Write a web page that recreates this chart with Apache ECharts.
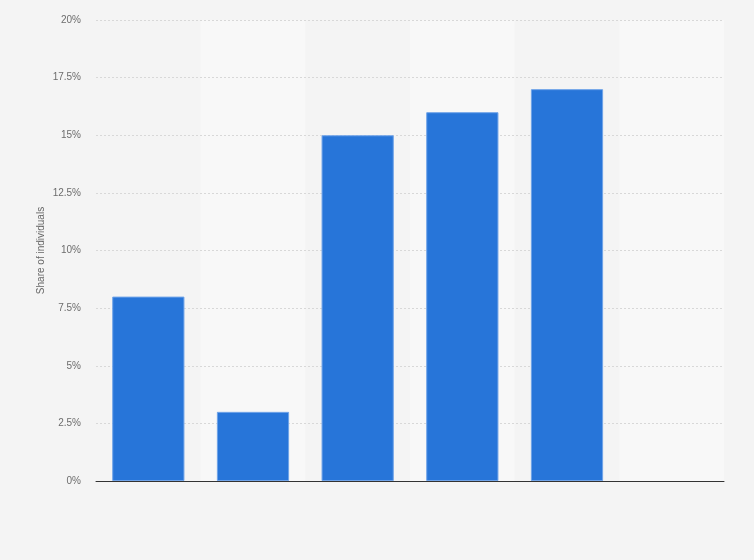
<!DOCTYPE html>
<html>
<head>
<meta charset="utf-8">
<script src="https://cdn.jsdelivr.net/npm/echarts@6/dist/echarts.min.js"></script>
<style>
  html, body { margin: 0; padding: 0; background: #f4f4f4; }
  #main { width: 754px; height: 560px; }
</style>
</head>
<body>
<div id="main"></div>
<script>
// categories have no visible labels in the source, the last slot is empty
var categories = ['A', 'B', 'C', 'D', 'E', 'F'];
var shareValues = [8, 3, 15, 16, 17, null];
var yTicks = [0, 2.5, 5, 7.5, 10, 12.5, 15, 17.5, 20];

var myChart = echarts.init(document.getElementById('main'));
var option = {
  backgroundColor: '#f4f4f4',
  animation: false,
  grid: { left: 96, right: 30, top: 20, bottom: 79 },
  xAxis: {
    type: 'category',
    data: categories,
    z: 0,
    axisLine: { lineStyle: { color: '#333', width: 1 } },
    axisTick: { show: false },
    axisLabel: { show: false },
    splitArea: {
      show: true,
      areaStyle: { color: ['rgba(0,0,0,0)', '#f8f8f8'] }
    }
  },
  yAxis: {
    type: 'value',
    z: 1,
    min: yTicks[0],
    max: yTicks[yTicks.length - 1],
    interval: 2.5,
    name: 'Share of individuals',
    nameLocation: 'middle',
    nameMoveOverlap: false,
    nameGap: 50,
    nameTextStyle: { color: '#666', fontSize: 10, fontFamily: 'Liberation Sans' },
    axisLine: { show: false },
    axisTick: { show: false },
    axisLabel: {
      color: '#6c6c6c',
      fontSize: 10,
      fontFamily: 'Liberation Sans',
      margin: 15,
      formatter: function (v) { return v + '%'; }
    },
    splitLine: { showMinLine: false, lineStyle: { color: '#d8d8d8', type: [2, 2] } }
  },
  series: [
    {
      type: 'bar',
      z: 3,
      data: shareValues,
      barWidth: '69%',
      itemStyle: {
        color: '#2775d9',
        borderColor: '#6fa3e8',
        borderWidth: 1
      }
    }
  ]
};
myChart.setOption(option);
</script>
</body>
</html>
